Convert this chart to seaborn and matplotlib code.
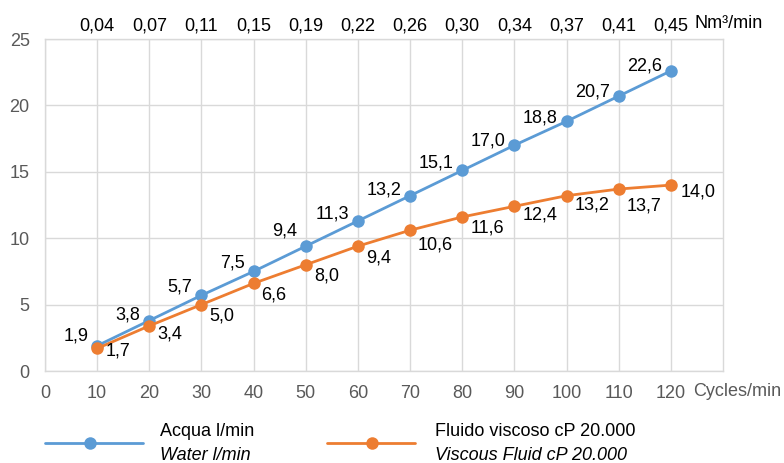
import matplotlib
matplotlib.use("Agg")
import matplotlib.pyplot as plt
from matplotlib.lines import Line2D
import seaborn as sns
import pandas as pd

sns.set_theme(style="white")
plt.rcParams['font.family'] = ['Liberation Sans', 'DejaVu Sans']

# data
cycles = [10, 20, 30, 40, 50, 60, 70, 80, 90, 100, 110, 120]
water = [1.9, 3.8, 5.7, 7.5, 9.4, 11.3, 13.2, 15.1, 17.0, 18.8, 20.7, 22.6]
viscous = [1.7, 3.4, 5.0, 6.6, 8.0, 9.4, 10.6, 11.6, 12.4, 13.2, 13.7, 14.0]
air_labels = ["0,04", "0,07", "0,11", "0,15", "0,19", "0,22",
              "0,26", "0,30", "0,34", "0,37", "0,41", "0,45"]
water_name = ("Acqua l/min", "Water l/min")
viscous_name = ("Fluido viscoso cP 20.000", "Viscous Fluid cP 20.000")

BLUE = "#5B9BD5"
ORANGE = "#ED7D31"
GRID = "#D9D9D9"
TICK = "#595959"
FS = 13

# label placement tweaks (pixels)
water_dy = [10, 6, 8, 8, 15, 7, 6, 7, 4, 3, 4, 5]
viscous_dy = [-3, -8, -11, -12, -11, -12, -15, -11, -9, -9, -17, -7]

df = pd.DataFrame({"cycles": cycles, "water": water, "viscous": viscous})

fig = plt.figure(figsize=(7.84, 4.63), dpi=100)
ax = fig.add_axes([45 / 784, 1 - 371 / 463, 678 / 784, 332 / 463])

sns.lineplot(data=df, x="cycles", y="water", ax=ax, color=BLUE, lw=2,
             marker="o", markersize=9, markeredgewidth=0)
sns.lineplot(data=df, x="cycles", y="viscous", ax=ax, color=ORANGE, lw=2,
             marker="o", markersize=9, markeredgewidth=0)

for x, y, dy in zip(cycles, water, water_dy):
    ax.annotate(f"{y:.1f}".replace(".", ","), (x, y), xytext=(-9, dy),
                textcoords="offset pixels", ha="right", va="center",
                fontsize=FS, color="black")
for i, (x, y, dy) in enumerate(zip(cycles, viscous, viscous_dy)):
    dx = 10 if i == len(cycles) - 1 else 8
    ax.annotate(f"{y:.1f}".replace(".", ","), (x, y), xytext=(dx, dy),
                textcoords="offset pixels", ha="left", va="center",
                fontsize=FS, color="black")

ax.set_xlim(0, 130)
ax.set_ylim(0, 25)
ax.set_xticks(range(0, 121, 10))
ax.set_yticks(range(0, 26, 5))
ax.set_xlabel("")
ax.set_ylabel("")
ax.grid(True, color=GRID, lw=1)
ax.set_axisbelow(True)
for s in ax.spines.values():
    s.set_color(GRID)
    s.set_linewidth(1)
ax.tick_params(axis="both", length=0, labelsize=FS, labelcolor=TICK)
ax.tick_params(axis="x", pad=10)
ax.tick_params(axis="y", pad=11)

top = ax.secondary_xaxis("top")
top.set_xticks(cycles)
top.set_xticklabels(air_labels)
top.tick_params(length=0, labelsize=FS, labelcolor="black", pad=3)
top.spines["top"].set_visible(False)

ax.annotate("Nm³/min", (120, 25), xytext=(24, 15),
            textcoords="offset pixels", ha="left", va="center",
            fontsize=FS, color="black", annotation_clip=False)
ax.annotate("Cycles/min", (120, 0), xytext=(22, -21),
            textcoords="offset pixels", ha="left", va="center",
            fontsize=FS, color=TICK, annotation_clip=False)

# legend drawn by hand
leg_y = 1 - 443 / 463
for (x0, x1, xm, xt, col, name) in [(45, 143, 90, 160, BLUE, water_name),
                                    (327, 415, 372, 435, ORANGE, viscous_name)]:
    fig.add_artist(Line2D([x0 / 784, x1 / 784], [leg_y, leg_y], color=col, lw=2))
    fig.add_artist(Line2D([xm / 784], [leg_y], color=col, marker="o",
                          markersize=9, markeredgewidth=0))
    fig.text(xt / 784, 1 - 432 / 463, name[0], ha="left", va="center",
             fontsize=FS, color="black")
    fig.text(xt / 784, 1 - 455 / 463, name[1], ha="left", va="center",
             fontsize=FS, color="black", style="italic")

fig.savefig("out.png", dpi=100)
